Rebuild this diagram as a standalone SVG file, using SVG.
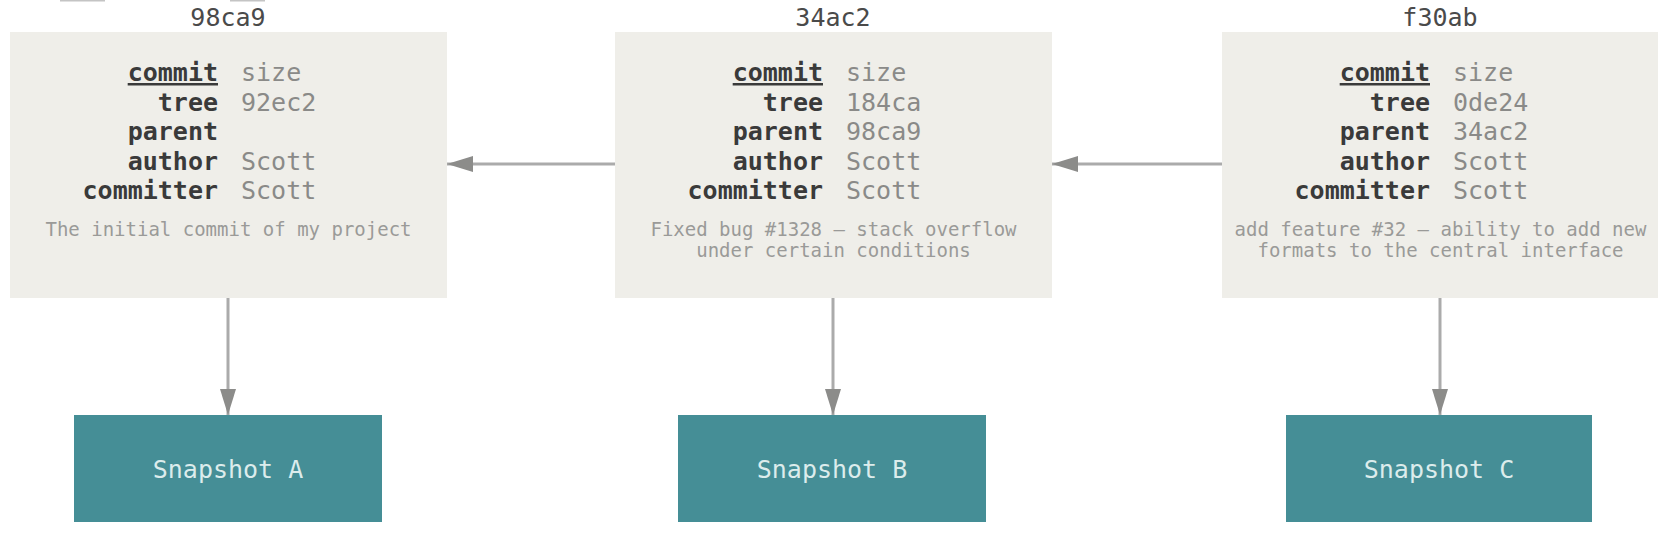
<svg xmlns="http://www.w3.org/2000/svg" width="1674" height="546" viewBox="0 0 1674 546">
<style>
  .commit { fill: #efeee9; }
  .snap { fill: #458e96; }
  .title { font-family: "DejaVu Sans Mono", "Liberation Mono", monospace; font-size: 25px; fill: #4a4a4a; text-anchor: middle; }
  .lbl { font-family: "DejaVu Sans Mono", "Liberation Mono", monospace; font-size: 25px; font-weight: bold; fill: #3a3a3a; text-anchor: end; }
  .val { font-family: "DejaVu Sans Mono", "Liberation Mono", monospace; font-size: 25px; fill: #8a8a88; text-anchor: start; }
  .msg { font-family: "DejaVu Sans Mono", "Liberation Mono", monospace; font-size: 19px; fill: #9a9a98; text-anchor: middle; }
  .snaptxt { font-family: "DejaVu Sans Mono", "Liberation Mono", monospace; font-size: 25px; fill: #dcecec; text-anchor: middle; }
  .conn { stroke: #ababab; stroke-width: 3; fill: none; marker-end: url(#head); }
</style>
<defs>
  <marker id="head" markerUnits="userSpaceOnUse" markerWidth="26" markerHeight="16" refX="26" refY="8" orient="auto">
    <path d="M0,0 L26,8 L0,16 Z" fill="#8c8c8a"/>
  </marker>
</defs>
<rect x="0" y="0" width="1674" height="546" fill="#ffffff"/>
<rect x="60" y="0" width="45" height="1.5" fill="#c4c4c4"/>
<rect x="230" y="0" width="35" height="1.5" fill="#c4c4c4"/>

<g id="commit-98ca9">
  <text class="title" x="228" y="26">98ca9</text>
  <rect class="commit" x="10" y="32" width="437" height="266"/>
  <text class="lbl" x="218" y="81" text-decoration="underline">commit</text><text class="val" x="241" y="81">size</text>
  <text class="lbl" x="218" y="111">tree</text><text class="val" x="241" y="111">92ec2</text>
  <text class="lbl" x="218" y="140">parent</text>
  <text class="lbl" x="218" y="170">author</text><text class="val" x="241" y="170">Scott</text>
  <text class="lbl" x="218" y="199">committer</text><text class="val" x="241" y="199">Scott</text>
  <text class="msg" x="228.5" y="236">The initial commit of my project</text>
</g>

<g id="commit-34ac2">
  <text class="title" x="833" y="26">34ac2</text>
  <rect class="commit" x="615" y="32" width="437" height="266"/>
  <text class="lbl" x="823" y="81" text-decoration="underline">commit</text><text class="val" x="846" y="81">size</text>
  <text class="lbl" x="823" y="111">tree</text><text class="val" x="846" y="111">184ca</text>
  <text class="lbl" x="823" y="140">parent</text><text class="val" x="846" y="140">98ca9</text>
  <text class="lbl" x="823" y="170">author</text><text class="val" x="846" y="170">Scott</text>
  <text class="lbl" x="823" y="199">committer</text><text class="val" x="846" y="199">Scott</text>
  <text class="msg" x="833.5" y="236">Fixed bug #1328 – stack overflow</text>
  <text class="msg" x="833.5" y="257">under certain conditions</text>
</g>

<g id="commit-f30ab">
  <text class="title" x="1440" y="26">f30ab</text>
  <rect class="commit" x="1222" y="32" width="436" height="266"/>
  <text class="lbl" x="1430" y="81" text-decoration="underline">commit</text><text class="val" x="1453" y="81">size</text>
  <text class="lbl" x="1430" y="111">tree</text><text class="val" x="1453" y="111">0de24</text>
  <text class="lbl" x="1430" y="140">parent</text><text class="val" x="1453" y="140">34ac2</text>
  <text class="lbl" x="1430" y="170">author</text><text class="val" x="1453" y="170">Scott</text>
  <text class="lbl" x="1430" y="199">committer</text><text class="val" x="1453" y="199">Scott</text>
  <text class="msg" x="1440.5" y="236">add feature #32 – ability to add new</text>
  <text class="msg" x="1440.5" y="257">formats to the central interface</text>
</g>

<g id="snapshot-a">
  <rect class="snap" x="74" y="415" width="308" height="107"/>
  <text class="snaptxt" x="228" y="478">Snapshot A</text>
</g>
<g id="snapshot-b">
  <rect class="snap" x="678" y="415" width="308" height="107"/>
  <text class="snaptxt" x="832" y="478">Snapshot B</text>
</g>
<g id="snapshot-c">
  <rect class="snap" x="1286" y="415" width="306" height="107"/>
  <text class="snaptxt" x="1439" y="478">Snapshot C</text>
</g>

<g id="connectors">
  <line class="conn" x1="615" y1="164" x2="447" y2="164"/>
  <line class="conn" x1="1222" y1="164" x2="1052" y2="164"/>
  <line class="conn" x1="228" y1="298" x2="228" y2="415"/>
  <line class="conn" x1="833" y1="298" x2="833" y2="415"/>
  <line class="conn" x1="1440" y1="298" x2="1440" y2="415"/>
</g>
</svg>
